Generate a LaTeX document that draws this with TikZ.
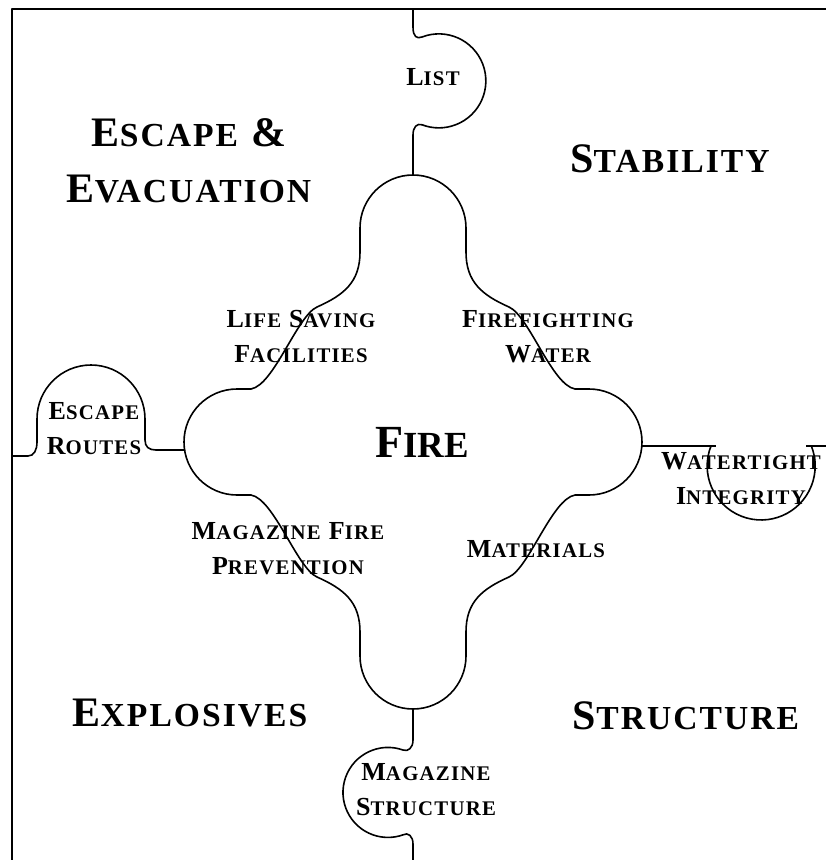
\documentclass[tikz,border=0pt]{standalone}
\usepackage{fontspec}
\setmainfont{Liberation Serif}
\makeatletter
\newcommand\sm[1]{{\fontsize{\fpeval{0.8*\f@size}}{0}\selectfont #1}}
\makeatother
\begin{document}
\begin{tikzpicture}[x=1pt,y=-1pt,line join=round,
  outline/.style={line width=1.6pt},
  frameline/.style={line width=2.4pt},
  big/.style={font=\fontsize{42}{56}\selectfont\bfseries\addfontfeature{LetterSpace=6},inner sep=0pt,align=center},
  firest/.style={font=\fontsize{46}{56}\selectfont\bfseries,inner sep=0pt},
  lab/.style={font=\fontsize{26}{35}\selectfont\bfseries\addfontfeature{LetterSpace=6},inner sep=0pt,align=center}]
\useasboundingbox (0,0) rectangle (826,860);
% frame
\draw[frameline] (12,860) -- (12,9) -- (826,9);
% main fire shape
\begin{scope}[shift={(413,442)}]
\draw[outline] (-53,-190) -- (-53,-214) arc[start angle=180,end angle=360,radius=53] -- (53,-190)
 .. controls (53,-160) and (69,-147) .. (96,-135)
 .. controls (116,-126) and (139,-57) .. (162,-53) -- (176,-53)
 arc[start angle=270,end angle=450,radius=53] -- (162,53)
 .. controls (139,57) and (116,126) .. (96,135)
 .. controls (69,147) and (53,160) .. (53,190) -- (53,214)
 arc[start angle=0,end angle=180,radius=53] -- (-53,190)
 .. controls (-53,160) and (-69,147) .. (-96,135)
 .. controls (-116,126) and (-139,57) .. (-162,53) -- (-176,53)
 arc[start angle=90,end angle=270,radius=53] -- (-162,-53)
 .. controls (-139,-57) and (-116,-126) .. (-96,-135)
 .. controls (-69,-147) and (-53,-160) .. (-53,-190) -- cycle;
\end{scope}
% top tab (List)
\draw[outline] (413,9) -- (413,27) .. controls (413,37) and (417,39) .. (422,37)
 arc[start angle=249,end angle=471,radius=47]
 .. controls (417,123) and (413,127) .. (413,135) -- (413,175);
% bottom tab (Magazine Structure)
\draw[outline] (413,709) -- (413,740) .. controls (413,748) and (408,752) .. (403,750)
 arc[start angle=289.5,end angle=70.5,radius=45]
 .. controls (408,832) and (413,836) .. (413,844) -- (413,860);
% left tab (Escape Routes)
\draw[outline] (12,456) -- (28,456) .. controls (34,456) and (37,450) .. (37,442) -- (37,419)
 arc[start angle=180,end angle=360,radius=54] -- (145,440)
 .. controls (145,447) and (149,450) .. (156,450) -- (185,450);
% right tab (Watertight Integrity)
\draw[outline] (642,446) -- (716,446);
\draw[outline] (711,446) arc[start angle=201.7,end angle=-21.7,radius=54];
\draw[outline] (806,446) -- (826,446);
% labels
\node[big,anchor=north] (escevac) at (189,118) {E\sm{SCAPE} \&\\E\sm{VACUATION}};
\node[big,anchor=base] (stab) at (670,172) {S\sm{TABILITY}};
\node[big,anchor=base] (expl) at (190,726) {E\sm{XPLOSIVES}};
\node[big,anchor=base] (struct) at (686,729) {S\sm{TRUCTURE}};
\node[firest,anchor=base] (fire) at (422,457) {F\sm{IRE}};
\node[lab,anchor=base] (list) at (433,85) {L\sm{IST}};
\node[lab,anchor=north] (escr) at (94,402) {E\sm{SCAPE}\\R\sm{OUTES}};
\node[lab,anchor=north] (lsf) at (301,310) {L\sm{IFE} S\sm{AVING}\\F\sm{ACILITIES}};
\node[lab,anchor=north] (ffw) at (548,310) {F\sm{IREFIGHTING}\\W\sm{ATER}};
\node[lab,anchor=north] (mfp) at (288,522) {M\sm{AGAZINE} F\sm{IRE}\\P\sm{REVENTION}};
\node[lab,anchor=base] (mat) at (536,557) {M\sm{ATERIALS}};
\node[lab,anchor=north] (wti) at (741,452) {W\sm{ATERTIGHT}\\I\sm{NTEGRITY}};
\node[lab,anchor=north] (mst) at (426,763) {M\sm{AGAZINE}\\S\sm{TRUCTURE}};
\end{tikzpicture}
\end{document}
